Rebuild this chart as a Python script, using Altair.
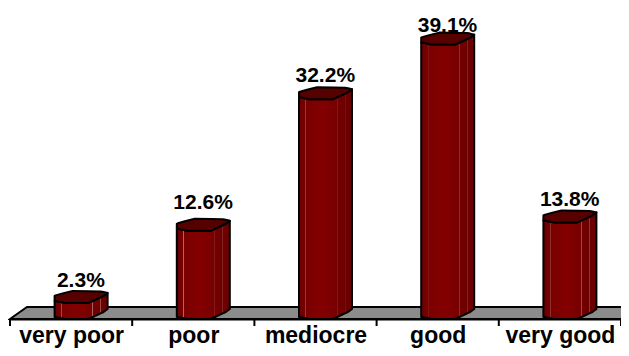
import altair as alt
import pandas as pd

categories = ["very poor", "poor", "mediocre", "good", "very good"]
labels = ["2.3%", "12.6%", "32.2%", "39.1%", "13.8%"]
bar_heights = [2.3, 12.6, 31.4, 39.2, 13.8]
label_heights = [5.5, 16.6, 34.7, 41.9, 17.0]

PLOT_W, PLOT_H = 611, 311
PX_X = 5.0 / PLOT_W
PX_Y = 1 / 7.0
START = 0.365

# cylinder rim outline: pixel offset across the bar, front edge, back edge
rim_px = [0, 1, 8, 10, 18, 34, 46, 49, 53]
rim_front = [2, 2, 0.5, 0, 0, 0, 5.6, 7, 10]
rim_back = [7, 7.5, 9.5, 10, 12, 11.7, 11.5, 11, 10]

body_rows, cap_rows = [], []
for i, h in enumerate(bar_heights):
    for px, lo, hi in zip(rim_px, rim_front, rim_back):
        x = i + START + px * PX_X
        body_rows.append({"cat": i, "x": x, "y": h + lo * PX_Y, "y2": lo * PX_Y})
        cap_rows.append({"cat": i, "x": x, "y": h + lo * PX_Y, "y2": h + hi * PX_Y})
body = pd.DataFrame(body_rows)
cap = pd.DataFrame(cap_rows)

depth = 12 * PX_Y
skew = 17 * PX_X
floor = pd.DataFrame({
    "x": [0, skew, 5, 5 + skew],
    "y": [0, 0, 0, depth],
    "y2": [0, depth, depth, depth],
})
ticks = pd.DataFrame({"x": list(range(6))})
text = pd.DataFrame({
    "x": [i + 0.58 for i in range(5)],
    "y": label_heights,
    "label": labels,
})

xs = alt.Scale(domain=[0, 5], nice=False, zero=False)
ys = alt.Scale(domain=[0, PLOT_H * PX_Y], nice=False, zero=False)
label_expr = "[" + ",".join(f"'{c}'" for c in categories) + "][floor(datum.value)]"
x_axis = alt.Axis(
    values=[i + 0.5 for i in range(5)], labelExpr=label_expr, ticks=False, grid=False,
    title=None, domainColor="black", domainWidth=2, labelFont="Liberation Sans",
    labelFontWeight="bold", labelFontSize=23, labelColor="black", labelPadding=5,
    labelOverlap=False, labelFlush=False,
)

floor_layer = alt.Chart(floor).mark_area(
    color="#8c8c8c", stroke="black", strokeWidth=2
).encode(
    x=alt.X("x:Q", scale=xs, axis=x_axis),
    y=alt.Y("y:Q", scale=ys, axis=None, stack=None),
    y2="y2:Q",
)

body_grad = alt.Gradient(
    gradient="linear", x1=0, y1=0, x2=1, y2=0,
    stops=[
        alt.GradientStop(offset=0, color="#6c0000"),
        alt.GradientStop(offset=0.12, color="#780000"),
        alt.GradientStop(offset=0.125, color="#b07070"),
        alt.GradientStop(offset=0.14, color="#7a0000"),
        alt.GradientStop(offset=0.45, color="#840000"),
        alt.GradientStop(offset=0.71, color="#760000"),
        alt.GradientStop(offset=0.715, color="#a86060"),
        alt.GradientStop(offset=0.73, color="#740000"),
        alt.GradientStop(offset=0.86, color="#6c0000"),
        alt.GradientStop(offset=0.865, color="#985050"),
        alt.GradientStop(offset=0.88, color="#700000"),
        alt.GradientStop(offset=1, color="#680000"),
    ],
)
body_layer = alt.Chart(body).mark_area(
    color=body_grad, stroke="black", strokeWidth=2, strokeJoin="round"
).encode(
    x=alt.X("x:Q", scale=xs),
    y=alt.Y("y:Q", scale=ys, stack=None),
    y2="y2:Q",
    detail="cat:N",
)
cap_layer = alt.Chart(cap).mark_area(
    color="#560000", stroke="black", strokeWidth=2, strokeJoin="round"
).encode(
    x=alt.X("x:Q", scale=xs),
    y=alt.Y("y:Q", scale=ys, stack=None),
    y2="y2:Q",
    detail="cat:N",
)
tick_layer = alt.Chart(ticks).mark_rule(color="black", strokeWidth=2).encode(
    x=alt.X("x:Q", scale=xs),
    y=alt.value(PLOT_H),
    y2=alt.value(PLOT_H + 7),
)
text_layer = alt.Chart(text).mark_text(
    font="Liberation Sans", fontWeight="bold", fontSize=21, color="black", baseline="middle"
).encode(
    x=alt.X("x:Q", scale=xs),
    y=alt.Y("y:Q", scale=ys),
    text="label:N",
)

chart = alt.layer(floor_layer, body_layer, cap_layer, tick_layer, text_layer).properties(
    width=PLOT_W, height=PLOT_H,
    autosize=alt.AutoSizeParams(type="none"),
    padding={"left": 2, "right": 0, "top": 0, "bottom": 29},
    background="white",
).configure_view(stroke=None)

chart.save("out.html", embed_options={"renderer": "svg", "actions": False})
